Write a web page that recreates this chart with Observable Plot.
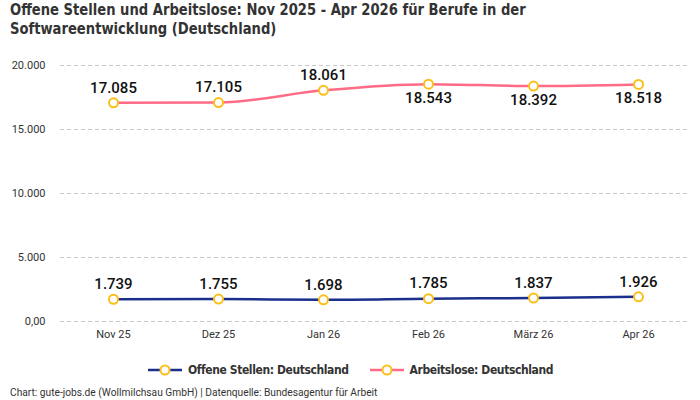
<!DOCTYPE html>
<html>
<head>
<meta charset="utf-8">
<script src="https://cdn.jsdelivr.net/npm/d3@7"></script>
<script src="https://cdn.jsdelivr.net/npm/@observablehq/plot@0.6"></script>
<style>
  html, body { margin: 0; padding: 0; background: #fff; }
  #wrap { width: 700px; height: 400px; position: relative; overflow: hidden; }
  .title { position: absolute; left: 10px; top: 0px; white-space: nowrap;
    font-family: "DejaVu Sans Condensed", sans-serif;
    font-weight: bold; font-size: 16.5px; line-height: 19px; color: #333;
    transform: scaleX(0.885); transform-origin: 0 0; }
  #chart { position: absolute; left: 0; top: 44px; }
  .legend { position: absolute; left: 0; top: 363px; width: 700px; display: flex; justify-content: center; gap: 20px;
    font-family: "DejaVu Sans Condensed", sans-serif; font-weight: bold; font-size: 12px; letter-spacing: -0.4px; color: #333; }
  .legend .item { display: flex; align-items: center; gap: 5px; }
  .caption { position: absolute; left: 10px; top: 387px; font-family: Roboto, sans-serif; font-size: 10.2px; color: #333; }
</style>
</head>
<body>
<div id="wrap">
  <div class="title">Offene Stellen und Arbeitslose: Nov 2025 - Apr 2026 für Berufe in der<br>Softwareentwicklung (Deutschland)</div>
  <div id="chart"></div>
  <div class="legend" id="legend"></div>
  <div class="caption">Chart: gute-jobs.de (Wollmilchsau GmbH) | Datenquelle: Bundesagentur für Arbeit</div>
</div>
<script>
// Monthly figures for software development occupations
const months = ["Nov 25", "Dez 25", "Jan 26", "Feb 26", "März 26", "Apr 26"];
const offeneStellen = [1739, 1755, 1698, 1785, 1837, 1926];
const arbeitslose = [17085, 17105, 18061, 18543, 18392, 18518];
const yTicks = [0, 5000, 10000, 15000, 20000];
const seriesNames = ["Offene Stellen: Deutschland", "Arbeitslose: Deutschland"];

const colors = { offen: "#1b2f8c", arbeitslos: "#ff6b86", marker: "#fbbf1a" };

const de = d3.formatLocale({ decimal: ",", thousands: ".", grouping: [3], currency: ["", " €"] });
const fmt = de.format(",d");

const rows = [];
months.forEach((m, i) => {
  rows.push({ month: m, i, value: offeneStellen[i], series: seriesNames[0] });
  rows.push({ month: m, i, value: arbeitslose[i], series: seriesNames[1] });
});
const offen = rows.filter(d => d.series === seriesNames[0]);
const arbeit = rows.filter(d => d.series === seriesNames[1]);
// Unemployment labels sit above the first three points and below the rest
const above = rows.filter(d => d.series === seriesNames[0] || d.i < 3);
const below = arbeit.filter(d => d.i >= 3);

const labelFont = { fontFamily: "Roboto, sans-serif", fontSize: 15, fontWeight: 500, fill: "#111" };

const plot = Plot.plot({
  width: 700,
  height: 305,
  marginLeft: 60,
  marginRight: 10,
  marginTop: 21,
  marginBottom: 28,
  style: { fontFamily: "Roboto, sans-serif", fontSize: "11px", color: "#333", background: "transparent" },
  x: { type: "point", domain: months, padding: 0.5, label: null },
  y: { domain: [0, 20000], label: null },
  marks: [
    Plot.gridY(yTicks, { stroke: "#c8c8c8", strokeOpacity: 1, strokeDasharray: "4,3" }),
    Plot.axisY(yTicks, { tickSize: 0, tickPadding: 15, fontSize: 11, tickFormat: d => d === 0 ? "0,00" : fmt(d) }),
    Plot.axisX({ tickSize: 0, tickPadding: 9, fontSize: 11 }),
    Plot.line(offen, { x: "month", y: "value", stroke: colors.offen, strokeWidth: 2.5, curve: "monotone-x" }),
    Plot.line(arbeit, { x: "month", y: "value", stroke: colors.arbeitslos, strokeWidth: 2.5, curve: "monotone-x" }),
    Plot.dot(rows, { x: "month", y: "value", r: 4.5, fill: "white", stroke: colors.marker, strokeWidth: 2 }),
    Plot.text(above, { x: "month", y: "value", text: d => fmt(d.value), dy: -15, ...labelFont }),
    Plot.text(below, { x: "month", y: "value", text: d => fmt(d.value), dy: 14, ...labelFont })
  ]
});
document.getElementById("chart").appendChild(plot);

// Legend: line swatch with a hollow marker, then the series name
const legend = document.getElementById("legend");
[[seriesNames[0], colors.offen], [seriesNames[1], colors.arbeitslos]].forEach(([name, c]) => {
  const item = document.createElement("div");
  item.className = "item";
  item.innerHTML = `<svg width="36" height="14"><line x1="1" x2="35" y1="7" y2="7" stroke="${c}" stroke-width="2.5"/>` +
    `<circle cx="18" cy="7" r="4.5" fill="white" stroke="${colors.marker}" stroke-width="2"/></svg><span>${name}</span>`;
  legend.appendChild(item);
});
</script>
</body>
</html>
